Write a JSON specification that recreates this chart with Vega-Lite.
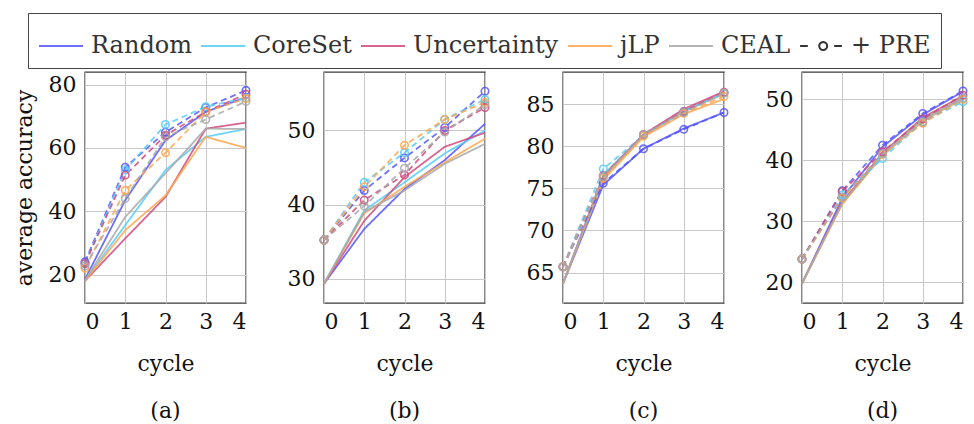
{
  "$schema": "https://vega.github.io/schema/vega-lite/v6.json",
  "padding": {"left": 12, "top": 11, "right": 0, "bottom": 0},
  "bounds": "flush",
  "spacing": 78,
  "config": {
    "font": "DejaVu Serif",
    "view": {"stroke": "#3a3a3a", "strokeWidth": 1.4},
    "axis": {"labelFont": "DejaVu Serif", "labelFontSize": 22, "labelColor": "#111", "titleFont": "DejaVu Serif", "titleFontSize": 22, "titleFontWeight": "normal", "titleColor": "#111", "gridColor": "#c8c8c8", "gridWidth": 1, "gridOpacity": 1, "domain": false, "ticks": false, "labelPadding": 9},
    "axisX": {"labelPadding": 8, "titlePadding": 21},
    "axisY": {"titlePadding": 12},
    "title": {"font": "DejaVu Serif", "fontSize": 22, "fontWeight": "normal", "color": "#111", "orient": "bottom", "offset": 27},
    "legend": {"orient": "none", "legendX": -57, "legendY": -59, "direction": "horizontal", "columns": 6, "gridAlign": "none", "columnPadding": 5, "labelOffset": 7, "labelFont": "DejaVu Serif", "labelFontSize": 24, "labelColor": "#333", "labelLimit": 400, "symbolSize": 1936, "symbolStrokeWidth": 2, "symbolFillColor": "transparent", "strokeColor": "#444", "fillColor": "white", "padding": 10, "cornerRadius": 0, "title": null}
  },
  "data": {"values": [
    {"p":"a","m":"Random","v":"base","c":0,"y":18.5},{"p":"a","m":"Random","v":"base","c":1,"y":43.5},{"p":"a","m":"Random","v":"base","c":2,"y":62.4},{"p":"a","m":"Random","v":"base","c":3,"y":71.4},{"p":"a","m":"Random","v":"base","c":4,"y":76},
    {"p":"a","m":"CoreSet","v":"base","c":0,"y":18},{"p":"a","m":"CoreSet","v":"base","c":1,"y":35.6},{"p":"a","m":"CoreSet","v":"base","c":2,"y":53},{"p":"a","m":"CoreSet","v":"base","c":3,"y":63.5},{"p":"a","m":"CoreSet","v":"base","c":4,"y":66},
    {"p":"a","m":"Uncertainty","v":"base","c":0,"y":18},{"p":"a","m":"Uncertainty","v":"base","c":1,"y":31.4},{"p":"a","m":"Uncertainty","v":"base","c":2,"y":44.5},{"p":"a","m":"Uncertainty","v":"base","c":3,"y":66.1},{"p":"a","m":"Uncertainty","v":"base","c":4,"y":68},
    {"p":"a","m":"jLP","v":"base","c":0,"y":18},{"p":"a","m":"jLP","v":"base","c":1,"y":34},{"p":"a","m":"jLP","v":"base","c":2,"y":45},{"p":"a","m":"jLP","v":"base","c":3,"y":63.5},{"p":"a","m":"jLP","v":"base","c":4,"y":60},
    {"p":"a","m":"CEAL","v":"base","c":0,"y":18.2},{"p":"a","m":"CEAL","v":"base","c":1,"y":38.2},{"p":"a","m":"CEAL","v":"base","c":2,"y":52},{"p":"a","m":"CEAL","v":"base","c":3,"y":66.1},{"p":"a","m":"CEAL","v":"base","c":4,"y":66},
    {"p":"a","m":"Random+","v":"pre","c":0,"y":24},{"p":"a","m":"Random+","v":"pre","c":1,"y":53.9},{"p":"a","m":"Random+","v":"pre","c":2,"y":65},{"p":"a","m":"Random+","v":"pre","c":3,"y":72.8},{"p":"a","m":"Random+","v":"pre","c":4,"y":78.2},
    {"p":"a","m":"CoreSet+","v":"pre","c":0,"y":23.5},{"p":"a","m":"CoreSet+","v":"pre","c":1,"y":53},{"p":"a","m":"CoreSet+","v":"pre","c":2,"y":67.4},{"p":"a","m":"CoreSet+","v":"pre","c":3,"y":73},{"p":"a","m":"CoreSet+","v":"pre","c":4,"y":75.8},
    {"p":"a","m":"Uncertainty+","v":"pre","c":0,"y":23.5},{"p":"a","m":"Uncertainty+","v":"pre","c":1,"y":51.4},{"p":"a","m":"Uncertainty+","v":"pre","c":2,"y":64},{"p":"a","m":"Uncertainty+","v":"pre","c":3,"y":71.4},{"p":"a","m":"Uncertainty+","v":"pre","c":4,"y":77},
    {"p":"a","m":"jLP+","v":"pre","c":0,"y":22},{"p":"a","m":"jLP+","v":"pre","c":1,"y":46.6},{"p":"a","m":"jLP+","v":"pre","c":2,"y":58.5},{"p":"a","m":"jLP+","v":"pre","c":3,"y":71.4},{"p":"a","m":"jLP+","v":"pre","c":4,"y":75.6},
    {"p":"a","m":"CEAL+","v":"pre","c":0,"y":22.7},{"p":"a","m":"CEAL+","v":"pre","c":1,"y":44},{"p":"a","m":"CEAL+","v":"pre","c":2,"y":63.5},{"p":"a","m":"CEAL+","v":"pre","c":3,"y":69},{"p":"a","m":"CEAL+","v":"pre","c":4,"y":74.7},

    {"p":"b","m":"Random","v":"base","c":0,"y":29.3},{"p":"b","m":"Random","v":"base","c":1,"y":36.7},{"p":"b","m":"Random","v":"base","c":2,"y":42.1},{"p":"b","m":"Random","v":"base","c":3,"y":46},{"p":"b","m":"Random","v":"base","c":4,"y":50.9},
    {"p":"b","m":"CoreSet","v":"base","c":0,"y":29.3},{"p":"b","m":"CoreSet","v":"base","c":1,"y":39.2},{"p":"b","m":"CoreSet","v":"base","c":2,"y":43},{"p":"b","m":"CoreSet","v":"base","c":3,"y":46.9},{"p":"b","m":"CoreSet","v":"base","c":4,"y":50},
    {"p":"b","m":"Uncertainty","v":"base","c":0,"y":29.3},{"p":"b","m":"Uncertainty","v":"base","c":1,"y":37.8},{"p":"b","m":"Uncertainty","v":"base","c":2,"y":43.7},{"p":"b","m":"Uncertainty","v":"base","c":3,"y":47.8},{"p":"b","m":"Uncertainty","v":"base","c":4,"y":49.7},
    {"p":"b","m":"jLP","v":"base","c":0,"y":29.3},{"p":"b","m":"jLP","v":"base","c":1,"y":38.8},{"p":"b","m":"jLP","v":"base","c":2,"y":42.4},{"p":"b","m":"jLP","v":"base","c":3,"y":45.7},{"p":"b","m":"jLP","v":"base","c":4,"y":48.9},
    {"p":"b","m":"CEAL","v":"base","c":0,"y":29.3},{"p":"b","m":"CEAL","v":"base","c":1,"y":39},{"p":"b","m":"CEAL","v":"base","c":2,"y":41.9},{"p":"b","m":"CEAL","v":"base","c":3,"y":45.5},{"p":"b","m":"CEAL","v":"base","c":4,"y":48.2},
    {"p":"b","m":"Random+","v":"pre","c":0,"y":35.2},{"p":"b","m":"Random+","v":"pre","c":1,"y":41.9},{"p":"b","m":"Random+","v":"pre","c":2,"y":46.3},{"p":"b","m":"Random+","v":"pre","c":3,"y":50.4},{"p":"b","m":"Random+","v":"pre","c":4,"y":55.3},
    {"p":"b","m":"CoreSet+","v":"pre","c":0,"y":35.2},{"p":"b","m":"CoreSet+","v":"pre","c":1,"y":43},{"p":"b","m":"CoreSet+","v":"pre","c":2,"y":47},{"p":"b","m":"CoreSet+","v":"pre","c":3,"y":51.5},{"p":"b","m":"CoreSet+","v":"pre","c":4,"y":54.2},
    {"p":"b","m":"Uncertainty+","v":"pre","c":0,"y":35.2},{"p":"b","m":"Uncertainty+","v":"pre","c":1,"y":40.6},{"p":"b","m":"Uncertainty+","v":"pre","c":2,"y":44},{"p":"b","m":"Uncertainty+","v":"pre","c":3,"y":50},{"p":"b","m":"Uncertainty+","v":"pre","c":4,"y":53.1},
    {"p":"b","m":"jLP+","v":"pre","c":0,"y":35.2},{"p":"b","m":"jLP+","v":"pre","c":1,"y":42.4},{"p":"b","m":"jLP+","v":"pre","c":2,"y":48},{"p":"b","m":"jLP+","v":"pre","c":3,"y":51.5},{"p":"b","m":"jLP+","v":"pre","c":4,"y":53.8},
    {"p":"b","m":"CEAL+","v":"pre","c":0,"y":35.2},{"p":"b","m":"CEAL+","v":"pre","c":1,"y":39.8},{"p":"b","m":"CEAL+","v":"pre","c":2,"y":44.9},{"p":"b","m":"CEAL+","v":"pre","c":3,"y":49.8},{"p":"b","m":"CEAL+","v":"pre","c":4,"y":53.5},

    {"p":"c","m":"Random","v":"base","c":0,"y":63.7},{"p":"c","m":"Random","v":"base","c":1,"y":75.4},{"p":"c","m":"Random","v":"base","c":2,"y":79.7},{"p":"c","m":"Random","v":"base","c":3,"y":82.1},{"p":"c","m":"Random","v":"base","c":4,"y":84},
    {"p":"c","m":"CoreSet","v":"base","c":0,"y":63.7},{"p":"c","m":"CoreSet","v":"base","c":1,"y":76.6},{"p":"c","m":"CoreSet","v":"base","c":2,"y":81.3},{"p":"c","m":"CoreSet","v":"base","c":3,"y":84.2},{"p":"c","m":"CoreSet","v":"base","c":4,"y":86.3},
    {"p":"c","m":"Uncertainty","v":"base","c":0,"y":63.7},{"p":"c","m":"Uncertainty","v":"base","c":1,"y":76.4},{"p":"c","m":"Uncertainty","v":"base","c":2,"y":81.4},{"p":"c","m":"Uncertainty","v":"base","c":3,"y":84.4},{"p":"c","m":"Uncertainty","v":"base","c":4,"y":86.5},
    {"p":"c","m":"jLP","v":"base","c":0,"y":63.7},{"p":"c","m":"jLP","v":"base","c":1,"y":76},{"p":"c","m":"jLP","v":"base","c":2,"y":81.1},{"p":"c","m":"jLP","v":"base","c":3,"y":83.8},{"p":"c","m":"jLP","v":"base","c":4,"y":85.6},
    {"p":"c","m":"CEAL","v":"base","c":0,"y":63.7},{"p":"c","m":"CEAL","v":"base","c":1,"y":76.3},{"p":"c","m":"CEAL","v":"base","c":2,"y":81.3},{"p":"c","m":"CEAL","v":"base","c":3,"y":84.1},{"p":"c","m":"CEAL","v":"base","c":4,"y":86.2},
    {"p":"c","m":"Random+","v":"pre","c":0,"y":65.7},{"p":"c","m":"Random+","v":"pre","c":1,"y":75.6},{"p":"c","m":"Random+","v":"pre","c":2,"y":79.7},{"p":"c","m":"Random+","v":"pre","c":3,"y":82},{"p":"c","m":"Random+","v":"pre","c":4,"y":84},
    {"p":"c","m":"CoreSet+","v":"pre","c":0,"y":65.7},{"p":"c","m":"CoreSet+","v":"pre","c":1,"y":77.3},{"p":"c","m":"CoreSet+","v":"pre","c":2,"y":81.3},{"p":"c","m":"CoreSet+","v":"pre","c":3,"y":84.1},{"p":"c","m":"CoreSet+","v":"pre","c":4,"y":86.3},
    {"p":"c","m":"Uncertainty+","v":"pre","c":0,"y":65.7},{"p":"c","m":"Uncertainty+","v":"pre","c":1,"y":76.5},{"p":"c","m":"Uncertainty+","v":"pre","c":2,"y":81.4},{"p":"c","m":"Uncertainty+","v":"pre","c":3,"y":84.1},{"p":"c","m":"Uncertainty+","v":"pre","c":4,"y":86.4},
    {"p":"c","m":"jLP+","v":"pre","c":0,"y":65.7},{"p":"c","m":"jLP+","v":"pre","c":1,"y":76.2},{"p":"c","m":"jLP+","v":"pre","c":2,"y":81.2},{"p":"c","m":"jLP+","v":"pre","c":3,"y":83.9},{"p":"c","m":"jLP+","v":"pre","c":4,"y":85.9},
    {"p":"c","m":"CEAL+","v":"pre","c":0,"y":65.7},{"p":"c","m":"CEAL+","v":"pre","c":1,"y":76.4},{"p":"c","m":"CEAL+","v":"pre","c":2,"y":81.4},{"p":"c","m":"CEAL+","v":"pre","c":3,"y":84},{"p":"c","m":"CEAL+","v":"pre","c":4,"y":86.3},

    {"p":"d","m":"Random","v":"base","c":0,"y":19.8},{"p":"d","m":"Random","v":"base","c":1,"y":33.8},{"p":"d","m":"Random","v":"base","c":2,"y":42.2},{"p":"d","m":"Random","v":"base","c":3,"y":47.5},{"p":"d","m":"Random","v":"base","c":4,"y":51.3},
    {"p":"d","m":"CoreSet","v":"base","c":0,"y":19.8},{"p":"d","m":"CoreSet","v":"base","c":1,"y":33},{"p":"d","m":"CoreSet","v":"base","c":2,"y":40.8},{"p":"d","m":"CoreSet","v":"base","c":3,"y":46.6},{"p":"d","m":"CoreSet","v":"base","c":4,"y":50},
    {"p":"d","m":"Uncertainty","v":"base","c":0,"y":19.8},{"p":"d","m":"Uncertainty","v":"base","c":1,"y":33.2},{"p":"d","m":"Uncertainty","v":"base","c":2,"y":41.2},{"p":"d","m":"Uncertainty","v":"base","c":3,"y":47},{"p":"d","m":"Uncertainty","v":"base","c":4,"y":50.6},
    {"p":"d","m":"jLP","v":"base","c":0,"y":19.8},{"p":"d","m":"jLP","v":"base","c":1,"y":32.8},{"p":"d","m":"jLP","v":"base","c":2,"y":40.8},{"p":"d","m":"jLP","v":"base","c":3,"y":46.4},{"p":"d","m":"jLP","v":"base","c":4,"y":50.2},
    {"p":"d","m":"CEAL","v":"base","c":0,"y":19.8},{"p":"d","m":"CEAL","v":"base","c":1,"y":33},{"p":"d","m":"CEAL","v":"base","c":2,"y":41},{"p":"d","m":"CEAL","v":"base","c":3,"y":46.8},{"p":"d","m":"CEAL","v":"base","c":4,"y":50.3},
    {"p":"d","m":"Random+","v":"pre","c":0,"y":23.8},{"p":"d","m":"Random+","v":"pre","c":1,"y":35},{"p":"d","m":"Random+","v":"pre","c":2,"y":42.5},{"p":"d","m":"Random+","v":"pre","c":3,"y":47.7},{"p":"d","m":"Random+","v":"pre","c":4,"y":51.4},
    {"p":"d","m":"CoreSet+","v":"pre","c":0,"y":23.8},{"p":"d","m":"CoreSet+","v":"pre","c":1,"y":34.3},{"p":"d","m":"CoreSet+","v":"pre","c":2,"y":40.3},{"p":"d","m":"CoreSet+","v":"pre","c":3,"y":46.3},{"p":"d","m":"CoreSet+","v":"pre","c":4,"y":49.6},
    {"p":"d","m":"Uncertainty+","v":"pre","c":0,"y":23.8},{"p":"d","m":"Uncertainty+","v":"pre","c":1,"y":34.9},{"p":"d","m":"Uncertainty+","v":"pre","c":2,"y":41.4},{"p":"d","m":"Uncertainty+","v":"pre","c":3,"y":46.8},{"p":"d","m":"Uncertainty+","v":"pre","c":4,"y":50.7},
    {"p":"d","m":"jLP+","v":"pre","c":0,"y":23.8},{"p":"d","m":"jLP+","v":"pre","c":1,"y":33.8},{"p":"d","m":"jLP+","v":"pre","c":2,"y":41},{"p":"d","m":"jLP+","v":"pre","c":3,"y":46.1},{"p":"d","m":"jLP+","v":"pre","c":4,"y":50},
    {"p":"d","m":"CEAL+","v":"pre","c":0,"y":23.8},{"p":"d","m":"CEAL+","v":"pre","c":1,"y":34},{"p":"d","m":"CEAL+","v":"pre","c":2,"y":41.1},{"p":"d","m":"CEAL+","v":"pre","c":3,"y":46.3},{"p":"d","m":"CEAL+","v":"pre","c":4,"y":50.2}
  ]},
  "resolve": {"scale": {"color": "shared", "strokeDash": "shared", "shape": "shared"}, "legend": {"color": "independent", "strokeDash": "independent", "shape": "independent"}},
  "hconcat": [
    {
      "width": 161, "height": 231,
      "title": {"text": "(a)"},
      "transform": [{"filter": "datum.p === 'a'"}],
      "encoding": {
        "x": {"field": "c", "type": "quantitative", "scale": {"domain": [0, 4], "nice": false}, "axis": {"values": [0, 1, 2, 3, 4], "format": "d", "title": "cycle"}},
        "y": {"field": "y", "type": "quantitative", "scale": {"domain": [11, 84], "nice": false, "zero": false}, "axis": {"values": [20, 40, 60, 80], "title": "average accuracy"}},
        "color": {"field": "m", "type": "nominal", "scale": {"domain": ["Random", "CoreSet", "Uncertainty", "jLP", "CEAL", "+ PRE", "Random+", "CoreSet+", "Uncertainty+", "jLP+", "CEAL+"], "range": ["#5555ff", "#55ccf8", "#d04a7c", "#ffa64d", "#a8a8a8", "#111111", "#5555ff", "#55ccf8", "#d04a7c", "#ffa64d", "#a8a8a8"]}, "legend": {"values": ["Random", "CoreSet", "Uncertainty", "jLP", "CEAL", "+ PRE"]}}
      },
      "layer": [
        {"mark": {"type": "line", "strokeWidth": 1.8, "opacity": 0.85}, "encoding": {"strokeDash": {"field": "m", "type": "nominal", "scale": {"domain": ["Random", "CoreSet", "Uncertainty", "jLP", "CEAL", "+ PRE", "Random+", "CoreSet+", "Uncertainty+", "jLP+", "CEAL+"], "range": [[1, 0], [1, 0], [1, 0], [1, 0], [1, 0], [1, 0], [6, 4], [6, 4], [6, 4], [6, 4], [6, 4]]}, "legend": {"values": ["Random", "CoreSet", "Uncertainty", "jLP", "CEAL", "+ PRE"]}}}},
        {"transform": [{"filter": "datum.v === 'pre'"}], "mark": {"type": "point", "filled": false, "size": 55, "strokeWidth": 1.6, "opacity": 0.85}, "encoding": {"shape": {"field": "m", "type": "nominal", "scale": {"domain": ["Random", "CoreSet", "Uncertainty", "jLP", "CEAL", "+ PRE", "Random+", "CoreSet+", "Uncertainty+", "jLP+", "CEAL+"], "range": ["stroke", "stroke", "stroke", "stroke", "stroke", "M-0.95,0H-0.6M-0.08,0A0.18,0.18,0,1,1,0.28,0A0.18,0.18,0,1,1,-0.08,0M0.6,0H0.95", "circle", "circle", "circle", "circle", "circle"]}, "legend": {"values": ["Random", "CoreSet", "Uncertainty", "jLP", "CEAL", "+ PRE"]}}}}
      ]
    },
    {
      "width": 161, "height": 231,
      "title": {"text": "(b)"},
      "transform": [{"filter": "datum.p === 'b'"}],
      "encoding": {
        "x": {"field": "c", "type": "quantitative", "scale": {"domain": [0, 4], "nice": false}, "axis": {"values": [0, 1, 2, 3, 4], "format": "d", "title": "cycle"}},
        "y": {"field": "y", "type": "quantitative", "scale": {"domain": [26.7, 57.9], "nice": false, "zero": false}, "axis": {"values": [30, 40, 50], "title": null}},
        "color": {"field": "m", "type": "nominal", "legend": null}
      },
      "layer": [
        {"mark": {"type": "line", "strokeWidth": 1.8, "opacity": 0.85}, "encoding": {"strokeDash": {"field": "m", "type": "nominal", "legend": null}}},
        {"transform": [{"filter": "datum.v === 'pre'"}], "mark": {"type": "point", "filled": false, "size": 55, "strokeWidth": 1.6, "opacity": 0.85}, "encoding": {"shape": {"field": "m", "type": "nominal", "legend": null}}}
      ]
    },
    {
      "width": 161, "height": 231,
      "title": {"text": "(c)"},
      "transform": [{"filter": "datum.p === 'c'"}],
      "encoding": {
        "x": {"field": "c", "type": "quantitative", "scale": {"domain": [0, 4], "nice": false}, "axis": {"values": [0, 1, 2, 3, 4], "format": "d", "title": "cycle"}},
        "y": {"field": "y", "type": "quantitative", "scale": {"domain": [61.4, 88.8], "nice": false, "zero": false}, "axis": {"values": [65, 70, 75, 80, 85], "title": null}},
        "color": {"field": "m", "type": "nominal", "legend": null}
      },
      "layer": [
        {"mark": {"type": "line", "strokeWidth": 1.8, "opacity": 0.85}, "encoding": {"strokeDash": {"field": "m", "type": "nominal", "legend": null}}},
        {"transform": [{"filter": "datum.v === 'pre'"}], "mark": {"type": "point", "filled": false, "size": 55, "strokeWidth": 1.6, "opacity": 0.85}, "encoding": {"shape": {"field": "m", "type": "nominal", "legend": null}}}
      ]
    },
    {
      "width": 161, "height": 231,
      "title": {"text": "(d)"},
      "transform": [{"filter": "datum.p === 'd'"}],
      "encoding": {
        "x": {"field": "c", "type": "quantitative", "scale": {"domain": [0, 4], "nice": false}, "axis": {"values": [0, 1, 2, 3, 4], "format": "d", "title": "cycle"}},
        "y": {"field": "y", "type": "quantitative", "scale": {"domain": [16.6, 54.5], "nice": false, "zero": false}, "axis": {"values": [20, 30, 40, 50], "title": null}},
        "color": {"field": "m", "type": "nominal", "legend": null}
      },
      "layer": [
        {"mark": {"type": "line", "strokeWidth": 1.8, "opacity": 0.85}, "encoding": {"strokeDash": {"field": "m", "type": "nominal", "legend": null}}},
        {"transform": [{"filter": "datum.v === 'pre'"}], "mark": {"type": "point", "filled": false, "size": 55, "strokeWidth": 1.6, "opacity": 0.85}, "encoding": {"shape": {"field": "m", "type": "nominal", "legend": null}}}
      ]
    }
  ]
}
